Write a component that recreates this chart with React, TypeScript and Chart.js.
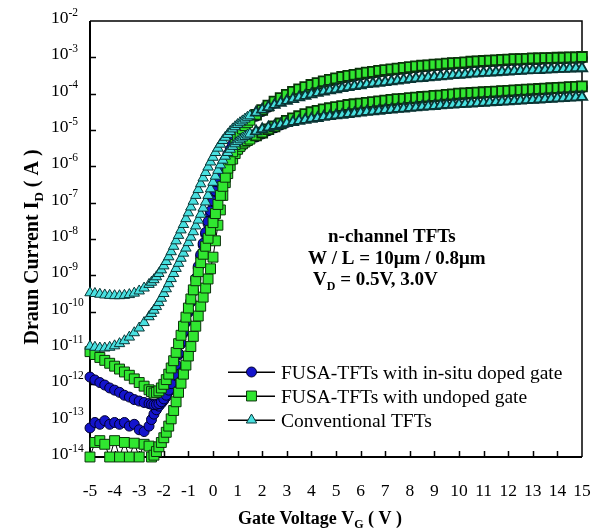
import React, { useEffect, useRef } from 'react';
import { Chart, registerables } from 'chart.js';
import { drawPoint } from 'chart.js/helpers';

Chart.register(...registerables);

// Gate voltage sample points (V)
const VG = [
  -5, -4.8, -4.6, -4.4, -4.2, -4, -3.8, -3.6, -3.4, -3.2, -3, -2.8, -2.6,
  -2.5, -2.4, -2.3, -2.2, -2.1, -2, -1.9, -1.8, -1.7, -1.6, -1.5, -1.4, -1.3, -1.2, -1.1, -1,
  -0.9, -0.8, -0.7, -0.6, -0.5, -0.4, -0.3, -0.2, -0.1, 0, 0.1, 0.2, 0.3, 0.4, 0.5, 0.6, 0.7,
  0.8, 0.9, 1, 1.1, 1.2, 1.3, 1.4, 1.5,
  1.75, 2, 2.25, 2.5, 2.75, 3, 3.25, 3.5, 3.75, 4, 4.25, 4.5, 4.75, 5, 5.25, 5.5, 5.75, 6,
  6.25, 6.5, 6.75, 7, 7.25, 7.5, 7.75, 8, 8.25, 8.5, 8.75, 9, 9.25, 9.5, 9.75, 10, 10.25,
  10.5, 10.75, 11, 11.25, 11.5, 11.75, 12, 12.25, 12.5, 12.75, 13, 13.25, 13.5, 13.75, 14,
  14.25, 14.5, 14.75, 15,
];

// Drain current, stored as log10(I_D / A)
// FUSA-TFTs with in-situ doped gate, VD = 3.0 V
const LOG_ID_DOPED_3V = [
  -11.80, -11.88, -11.95, -12.02, -12.10, -12.16, -12.22, -12.30, -12.35, -12.42, -12.46, -12.50, -12.53,
  -12.55, -12.56, -12.55, -12.53, -12.48, -12.40, -12.30, -12.16, -11.98, -11.74, -11.46, -11.15, -10.85,
  -10.55, -10.26, -9.98, -9.70, -9.40, -9.08, -8.75, -8.43, -8.12, -7.82, -7.52, -7.23, -6.95, -6.68,
  -6.43, -6.21, -6.01, -5.83, -5.67, -5.53, -5.40, -5.28, -5.18, -5.08, -4.99, -4.90, -4.82, -4.75,
  -4.61, -4.48, -4.36, -4.25, -4.15, -4.06, -3.98, -3.91, -3.85, -3.79, -3.74, -3.69, -3.65, -3.61,
  -3.57, -3.54, -3.51, -3.48, -3.45, -3.43, -3.40, -3.38, -3.36, -3.34, -3.32, -3.30, -3.28, -3.26,
  -3.25, -3.23, -3.22, -3.20, -3.19, -3.18, -3.17, -3.15, -3.14, -3.13, -3.12, -3.11, -3.10, -3.09,
  -3.08, -3.08, -3.07, -3.06, -3.06, -3.05, -3.05, -3.04, -3.04, -3.03, -3.03, -3.02,
];
// FUSA-TFTs with in-situ doped gate, VD = 0.5 V
const LOG_ID_DOPED_05V = [
  -13.20, -13.05, -13.10, -13.00, -13.10, -13.05, -13.10, -13.05, -13.15, -13.10, -13.25, -13.30, -13.15,
  -12.97, -12.82, -12.70, -12.60, -12.52, -12.44, -12.34, -12.20, -12.02, -11.78, -11.50, -11.19, -10.89,
  -10.59, -10.30, -10.02, -9.74, -9.44, -9.12, -8.80, -8.48, -8.17, -7.87, -7.58, -7.30, -7.03, -6.78,
  -6.55, -6.34, -6.16, -6.00, -5.88, -5.78, -5.70, -5.63, -5.57, -5.50, -5.43, -5.37, -5.32, -5.28,
  -5.18, -5.10, -5.01, -4.93, -4.85, -4.78, -4.71, -4.65, -4.59, -4.54, -4.50, -4.46, -4.43, -4.40,
  -4.37, -4.34, -4.32, -4.30, -4.28, -4.26, -4.24, -4.22, -4.20, -4.18, -4.17, -4.15, -4.14, -4.12,
  -4.11, -4.09, -4.08, -4.06, -4.05, -4.03, -4.02, -4.01, -4.00, -3.99, -3.98, -3.97, -3.96, -3.95,
  -3.94, -3.93, -3.92, -3.91, -3.90, -3.89, -3.88, -3.87, -3.86, -3.85, -3.84, -3.83,
];
// FUSA-TFTs with undoped gate, VD = 3.0 V
const LOG_ID_UNDOPED_3V = [
  -11.10, -11.18, -11.26, -11.34, -11.42, -11.50, -11.58, -11.66, -11.75, -11.85, -11.95, -12.05, -12.15,
  -12.20, -12.24, -12.22, -12.18, -12.10, -12.00, -11.87, -11.72, -11.55, -11.35, -11.12, -10.88, -10.65,
  -10.40, -10.15, -9.90, -9.65, -9.40, -9.15, -8.90, -8.65, -8.42, -8.20, -7.98, -7.76, -7.55, -7.30,
  -7.05, -6.80, -6.55, -6.30, -6.05, -5.82, -5.60, -5.40, -5.22, -5.08, -4.97, -4.88, -4.80, -4.73,
  -4.58, -4.45, -4.33, -4.22, -4.12, -4.03, -3.95, -3.88, -3.82, -3.76, -3.71, -3.66, -3.62, -3.58,
  -3.54, -3.51, -3.48, -3.45, -3.42, -3.40, -3.37, -3.35, -3.33, -3.31, -3.29, -3.27, -3.25, -3.23,
  -3.22, -3.20, -3.19, -3.17, -3.16, -3.15, -3.14, -3.12, -3.11, -3.10, -3.09, -3.08, -3.07, -3.06,
  -3.05, -3.05, -3.04, -3.03, -3.03, -3.02, -3.02, -3.01, -3.01, -3.00, -3.00, -2.99,
];
// FUSA-TFTs with undoped gate, VD = 0.5 V
const LOG_ID_UNDOPED_05V = [
  -14.00, -13.60, -13.55, -13.65, -14.00, -13.55, -14.00, -13.60, -14.00, -13.62, -14.00, -13.65, -13.70,
  -14.00, -13.95, -13.85, -13.72, -13.60, -13.47, -13.32, -13.15, -12.95, -12.72, -12.48, -12.22, -11.97,
  -11.72, -11.47, -11.22, -10.96, -10.68, -10.40, -10.12, -9.85, -9.60, -9.35, -9.10, -8.82, -8.50, -8.05,
  -7.62, -7.20, -6.80, -6.45, -6.20, -5.98, -5.80, -5.65, -5.53, -5.45, -5.38, -5.33, -5.29, -5.25,
  -5.15, -5.07, -4.98, -4.90, -4.82, -4.75, -4.68, -4.62, -4.56, -4.51, -4.47, -4.43, -4.40, -4.37,
  -4.34, -4.31, -4.29, -4.27, -4.25, -4.23, -4.21, -4.19, -4.17, -4.15, -4.14, -4.12, -4.11, -4.09,
  -4.08, -4.06, -4.05, -4.03, -4.02, -4.00, -3.99, -3.98, -3.97, -3.96, -3.95, -3.94, -3.93, -3.92,
  -3.91, -3.90, -3.89, -3.88, -3.87, -3.86, -3.85, -3.84, -3.83, -3.82, -3.81, -3.80,
];
// Conventional TFTs, VD = 3.0 V
const LOG_ID_CONV_3V = [
  -9.48, -9.50, -9.52, -9.54, -9.55, -9.56, -9.56, -9.55, -9.53, -9.49, -9.43, -9.35, -9.25,
  -9.19, -9.12, -9.04, -8.95, -8.85, -8.74, -8.62, -8.49, -8.35, -8.20, -8.05, -7.90, -7.75,
  -7.60, -7.44, -7.28, -7.12, -6.96, -6.80, -6.64, -6.48, -6.32, -6.17, -6.02, -5.88, -5.75, -5.62,
  -5.50, -5.39, -5.29, -5.20, -5.12, -5.04, -4.97, -4.91, -4.85, -4.80, -4.75, -4.70, -4.65, -4.61,
  -4.52, -4.44, -4.37, -4.31, -4.25, -4.20, -4.15, -4.10, -4.06, -4.02, -3.98, -3.94, -3.91, -3.88,
  -3.85, -3.82, -3.79, -3.77, -3.74, -3.72, -3.70, -3.68, -3.66, -3.64, -3.62, -3.60, -3.58, -3.57,
  -3.55, -3.54, -3.52, -3.51, -3.49, -3.48, -3.47, -3.45, -3.44, -3.43, -3.42, -3.41, -3.40, -3.39,
  -3.38, -3.37, -3.36, -3.35, -3.35, -3.34, -3.33, -3.32, -3.32, -3.31, -3.30, -3.30,
];
// Conventional TFTs, VD = 0.5 V
const LOG_ID_CONV_05V = [
  -10.95, -10.98, -11.00, -11.00, -10.98, -10.94, -10.88, -10.80, -10.70, -10.58, -10.45, -10.30, -10.14,
  -10.05, -9.96, -9.86, -9.75, -9.63, -9.50, -9.37, -9.23, -9.09, -8.95, -8.81, -8.67, -8.53,
  -8.39, -8.25, -8.10, -7.95, -7.80, -7.64, -7.48, -7.32, -7.15, -6.98, -6.80, -6.62, -6.44, -6.27,
  -6.11, -5.96, -5.83, -5.72, -5.62, -5.53, -5.45, -5.38, -5.32, -5.27, -5.22, -5.18, -5.14, -5.11,
  -5.04, -4.98, -4.93, -4.89, -4.85, -4.81, -4.78, -4.75, -4.72, -4.69, -4.67, -4.64, -4.62, -4.60,
  -4.58, -4.56, -4.54, -4.52, -4.50, -4.49, -4.47, -4.45, -4.44, -4.42, -4.41, -4.39, -4.38, -4.36,
  -4.35, -4.34, -4.32, -4.31, -4.30, -4.29, -4.28, -4.27, -4.26, -4.25, -4.24, -4.23, -4.22, -4.21,
  -4.20, -4.19, -4.18, -4.17, -4.16, -4.15, -4.14, -4.13, -4.12, -4.11, -4.10, -4.09,
];

const LEGEND_LABELS = [
  'FUSA-TFTs with in-situ doped gate',
  'FUSA-TFTs with undoped gate',
  'Conventional TFTs',
];
const Y_EXPONENTS = [-2, -3, -4, -5, -6, -7, -8, -9, -10, -11, -12, -13, -14];

const FONT = "'Liberation Serif','Times New Roman',Times,serif";

const STYLES = [
  { pointStyle: 'circle', radius: 5, fill: '#1414CC', stroke: '#00002A' },
  { pointStyle: 'rect', radius: 7, fill: '#30E630', stroke: '#0A330A' },
  { pointStyle: 'triangle', radius: 6, fill: '#48E0E0', stroke: '#0A3535' },
];

type Part = { t: string; size: number; bold?: boolean; dy?: number };
const fontOf = (p: Part) => `${p.bold ? 'bold ' : ''}${p.size}px ${FONT}`;
function partsWidth(ctx: CanvasRenderingContext2D, parts: Part[]) {
  let w = 0;
  for (const p of parts) {
    ctx.font = fontOf(p);
    w += ctx.measureText(p.t).width;
  }
  return w;
}
function drawParts(ctx: CanvasRenderingContext2D, parts: Part[], x: number, y: number) {
  let cx = x;
  for (const p of parts) {
    ctx.font = fontOf(p);
    ctx.fillText(p.t, cx, y + (p.dy || 0));
    cx += ctx.measureText(p.t).width;
  }
}

const toPoints = (logs: number[]) => logs.map((v, i) => ({ x: VG[i], y: Math.pow(10, v) }));

const decoPlugin = {
  id: 'deco',
  beforeDatasetsDraw(chart: any) {
    const { ctx, chartArea, scales } = chart;
    const { left, right, top, bottom } = chartArea;
    ctx.save();
    ctx.strokeStyle = '#000';
    ctx.lineWidth = 1.5;
    ctx.beginPath();
    ctx.moveTo(left, top);
    ctx.lineTo(right, top);
    ctx.lineTo(right, bottom);
    ctx.stroke();
    ctx.lineWidth = 2;
    ctx.beginPath();
    ctx.moveTo(left, top);
    ctx.lineTo(left, bottom);
    ctx.lineTo(right, bottom);
    ctx.stroke();
    ctx.lineWidth = 1.5;
    ctx.beginPath();
    for (let v = -4; v <= 14; v++) {
      const px = Math.round(scales.x.getPixelForValue(v)) + 0.5;
      ctx.moveTo(px, bottom);
      ctx.lineTo(px, bottom - 6);
    }
    for (const e of Y_EXPONENTS) {
      if (e === -2 || e === -14) continue;
      const py = Math.round(scales.y.getPixelForValue(Math.pow(10, e))) + 0.5;
      ctx.moveTo(left, py);
      ctx.lineTo(left + 6, py);
    }
    ctx.stroke();
    ctx.restore();
  },
  afterDraw(chart: any) {
    const { ctx, chartArea, scales } = chart;
    const { top, bottom } = chartArea;
    ctx.save();
    ctx.fillStyle = '#000';
    ctx.textAlign = 'left';
    ctx.textBaseline = 'alphabetic';

    // y tick labels 10^n
    for (const e of Y_EXPONENTS) {
      const py = scales.y.getPixelForValue(Math.pow(10, e));
      drawParts(ctx, [
        { t: '10', size: 17.5 },
        { t: String(e), size: 11.5, dy: -7.5 },
      ], 51, py + 2);
    }

    // y axis title
    const yParts: Part[] = [
      { t: 'Draun Current I', size: 20, bold: true },
      { t: 'D', size: 13, bold: true, dy: 5 },
      { t: ' ( A )', size: 20, bold: true },
    ];
    const yw = partsWidth(ctx, yParts);
    ctx.save();
    ctx.translate(31, (top + bottom) / 2 + 8);
    ctx.rotate(-Math.PI / 2);
    drawParts(ctx, yParts, -yw / 2, 7);
    ctx.restore();

    // x axis title
    const xParts: Part[] = [
      { t: 'Gate Voltage V', size: 18, bold: true },
      { t: 'G', size: 12, bold: true, dy: 4 },
      { t: ' ( V )', size: 18, bold: true },
    ];
    const xw = partsWidth(ctx, xParts);
    drawParts(ctx, xParts, 320 - xw / 2, 524);

    // annotation
    drawParts(ctx, [{ t: 'n-channel TFTs', size: 19, bold: true }], 328, 242);
    drawParts(ctx, [{ t: 'W / L = 10\u03bcm / 0.8\u03bcm', size: 19, bold: true }], 308, 263.5);
    drawParts(ctx, [
      { t: 'V', size: 19, bold: true },
      { t: 'D', size: 12, bold: true, dy: 5 },
      { t: ' = 0.5V, 3.0V', size: 19, bold: true },
    ], 313, 285);

    // legend
    const rows = [372, 396, 420];
    LEGEND_LABELS.forEach((label, i) => {
      const cy = rows[i];
      const s = STYLES[i];
      ctx.strokeStyle = '#000';
      ctx.lineWidth = 1.5;
      ctx.beginPath();
      ctx.moveTo(228, cy + 0.25);
      ctx.lineTo(275, cy + 0.25);
      ctx.stroke();
      ctx.fillStyle = s.fill;
      ctx.strokeStyle = s.stroke;
      ctx.lineWidth = 1;
      drawPoint(ctx, { pointStyle: s.pointStyle, rotation: 0, radius: s.radius, borderWidth: 1 } as any, 251.5, cy);
      ctx.fillStyle = '#000';
      drawParts(ctx, [{ t: label, size: 19.5 }], 281, cy + 6.5);
    });
    ctx.restore();
  },
};

export default function App() {
  const ref = useRef<HTMLCanvasElement | null>(null);
  useEffect(() => {
    if (!ref.current) return;
    const series = [
      { logs: LOG_ID_CONV_3V, s: 2, order: 0, vd: '3.0V' },
      { logs: LOG_ID_CONV_05V, s: 2, order: 1, vd: '0.5V' },
      { logs: LOG_ID_UNDOPED_3V, s: 1, order: 2, vd: '3.0V' },
      { logs: LOG_ID_UNDOPED_05V, s: 1, order: 3, vd: '0.5V' },
      { logs: LOG_ID_DOPED_3V, s: 0, order: 4, vd: '3.0V' },
      { logs: LOG_ID_DOPED_05V, s: 0, order: 5, vd: '0.5V' },
    ];
    const chart = new Chart(ref.current, {
      type: 'line',
      data: {
        datasets: series.map((d) => {
          const st = STYLES[d.s];
          return {
            label: `${LEGEND_LABELS[d.s]} (VD = ${d.vd})`,
            data: toPoints(d.logs),
            order: d.order,
            borderColor: '#000',
            borderWidth: 1,
            pointStyle: st.pointStyle as any,
            pointRadius: st.radius,
            pointBackgroundColor: st.fill,
            pointBorderColor: st.stroke,
            // densely packed markers in the on-state read as a dark hatched band
            pointBorderWidth: (c: any) => (c.raw && c.raw.x >= 1.6 ? 1.8 : 1),
            tension: 0,
            clip: false as any,
          };
        }),
      },
      options: {
        animation: false,
        responsive: false,
        devicePixelRatio: 1,
        events: [],
        layout: { padding: { left: 0, top: 21, right: 11, bottom: 0 } },
        plugins: { legend: { display: false }, tooltip: { enabled: false }, title: { display: false } },
        scales: {
          x: {
            type: 'linear',
            min: -5,
            max: 15,
            grid: { display: false },
            border: { display: false },
            ticks: {
              stepSize: 1,
              color: '#000',
              padding: 16,
              font: { family: FONT, size: 17.5 },
              maxRotation: 0,
              autoSkip: false,
            },
            afterFit: (scale: any) => {
              scale.height = 73;
              scale.paddingLeft = 0;
              scale.paddingRight = 0;
            },
          },
          y: {
            type: 'logarithmic',
            min: 1e-14,
            max: 1e-2,
            grid: { display: false },
            border: { display: false },
            ticks: { display: false },
            afterFit: (scale: any) => {
              scale.width = 90;
              scale.paddingTop = 0;
              scale.paddingBottom = 0;
            },
          },
        },
      },
      plugins: [decoPlugin],
    });
    return () => chart.destroy();
  }, []);
  return (
    <div style={{ position: 'fixed', left: 0, top: 0, width: 593, height: 530, background: '#fff' }}>
      <canvas ref={ref} width={593} height={530} style={{ display: 'block', width: 593, height: 530 }} />
    </div>
  );
}
